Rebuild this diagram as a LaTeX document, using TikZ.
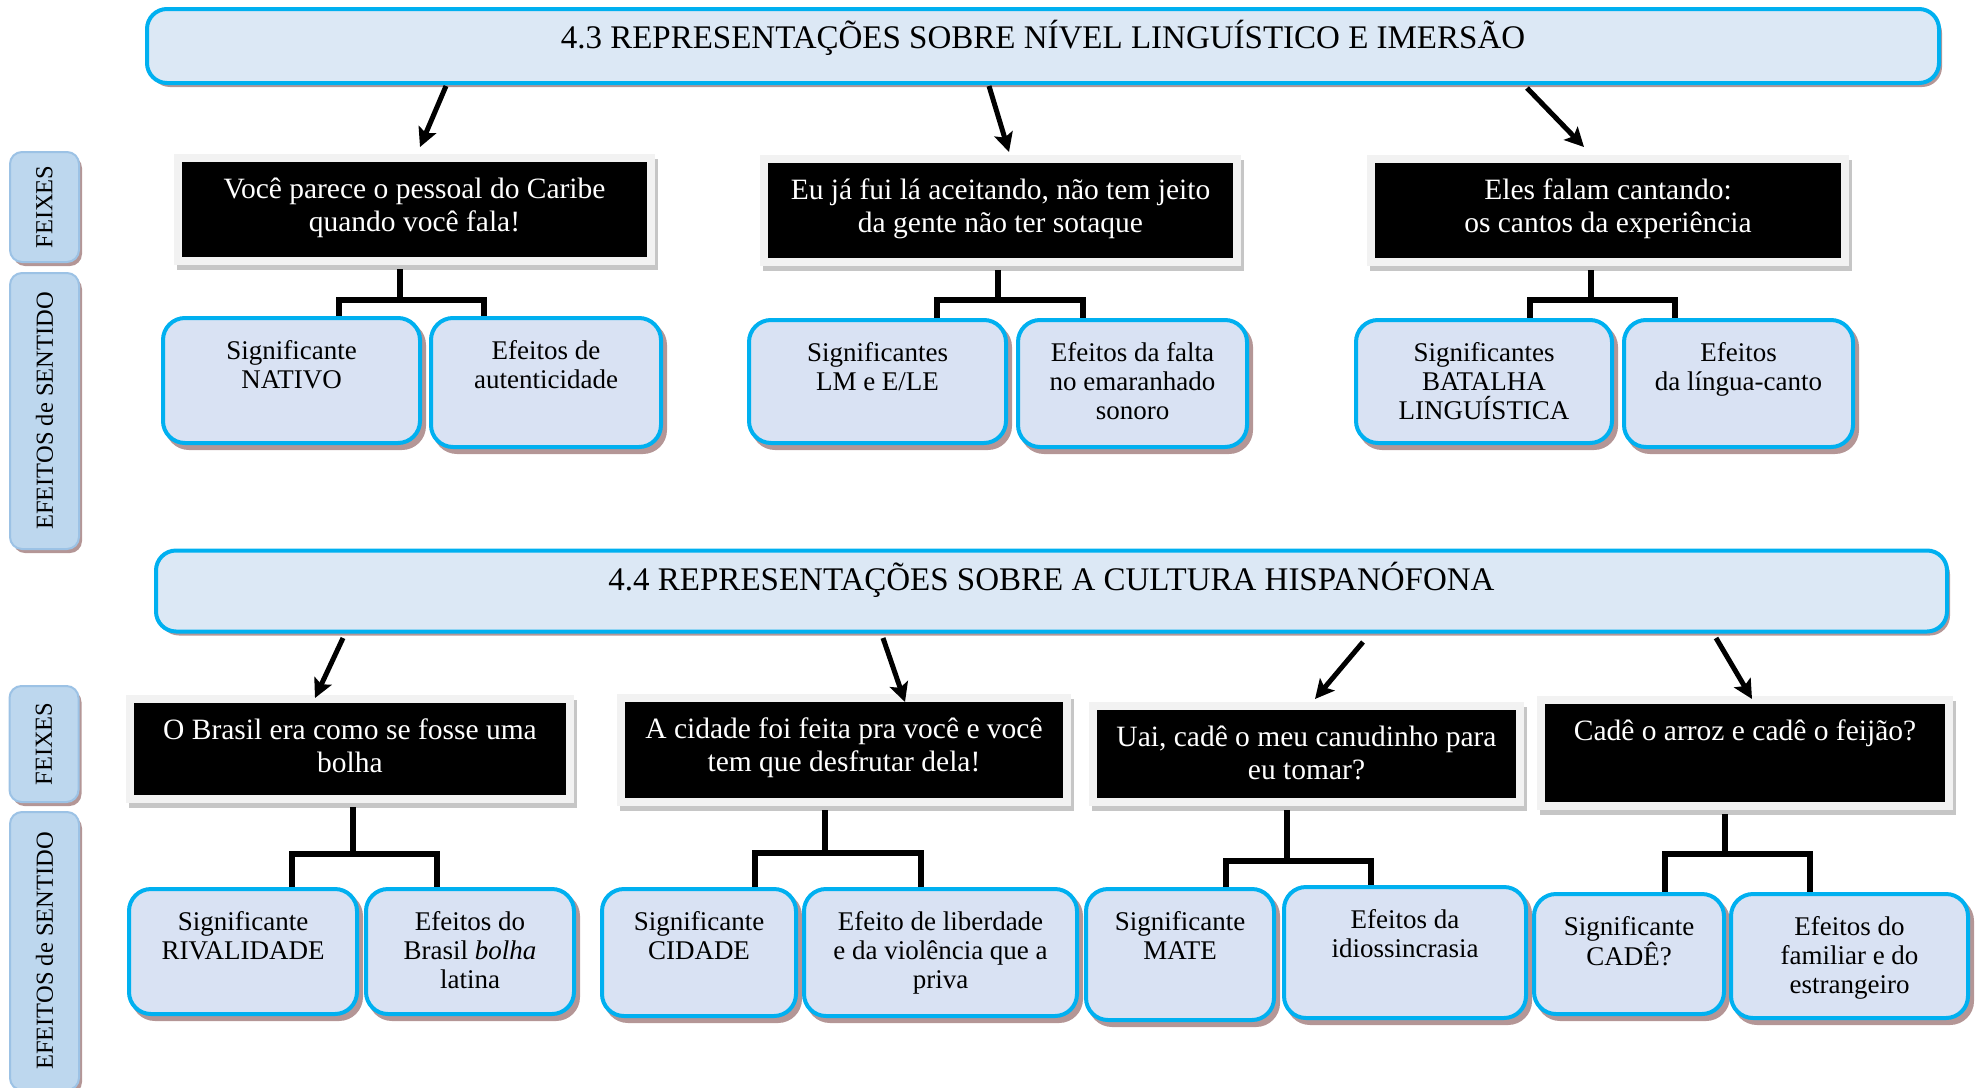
\documentclass[tikz,border=0pt]{standalone}
\usepackage{fontspec}
\setmainfont{Liberation Serif}
\usetikzlibrary{arrows.meta,shadows}

\definecolor{headfill}{HTML}{DCE8F5}
\definecolor{cyanline}{HTML}{00B0F0}
\definecolor{rosyshadow}{HTML}{B49696}
\definecolor{sigfill}{HTML}{D9E2F3}
\definecolor{sidefill}{HTML}{BDD7EE}
\definecolor{sideline}{HTML}{9CC2E5}
\definecolor{framegray}{HTML}{F2F2F2}
\definecolor{framedark}{HTML}{C6C6C6}

% width, height, gap above first line, text
\newcommand{\boxtext}[4]{%
  \begin{minipage}[c][#2][t]{#1}\centering\vspace*{#3}#4\end{minipage}}

\tikzset{
  header/.style={draw=cyanline, fill=headfill, line width=4pt, rounded corners=20pt,
    inner sep=0pt, font=\fontsize{33}{36}\selectfont,
    drop shadow={shadow xshift=3pt, shadow yshift=-4pt, fill=rosyshadow, opacity=1}},
  feixe/.style={fill=black, draw=framegray, line width=8pt, inner sep=0pt, text=white,
    font=\fontsize{29.5}{33}\selectfont,
    drop shadow={shadow xshift=3pt, shadow yshift=-5pt, fill=framedark, draw=framedark, opacity=1}},
  sig/.style={draw=cyanline, fill=sigfill, line width=4pt, rounded corners=22pt,
    inner sep=0pt, font=\fontsize{27}{29}\selectfont,
    drop shadow={shadow xshift=4pt, shadow yshift=-5pt, fill=rosyshadow, draw=rosyshadow, opacity=1}},
  side/.style={draw=sideline, fill=sidefill, line width=2pt, rounded corners=12pt,
    inner sep=0pt, rotate=90, minimum height=69pt, font=\fontsize{24.5}{26}\selectfont,
    drop shadow={shadow xshift=3pt, shadow yshift=-4pt, fill=rosyshadow, opacity=1}},
  arrow/.style={line width=5pt, -{Stealth[length=19pt,width=19pt,inset=4pt]}},
  elbow/.style={line width=6pt}
}

\begin{document}
\begin{tikzpicture}[x=1pt,y=-1pt]
  \useasboundingbox (0,0) rectangle (1975,1087);

  % side labels
  \node[side, minimum width=110pt] (fx1) at (44.5,207) {FEIXES};
  \node[side, minimum width=276pt] (ef1) at (44.5,411) {EFEITOS de SENTIDO};
  \node[side, minimum width=116pt] (fx2) at (44,744) {FEIXES};
  \node[side, minimum width=278pt] (ef2) at (44.5,951) {EFEITOS de SENTIDO};

  % 4.3
  \node[header, minimum width=1792pt, text height=39pt, text depth=35pt] (h1) at (1043,46)
    {4.3 REPRESENTAÇÕES SOBRE NÍVEL LINGUÍSTICO E IMERSÃO};

  \node[feixe] (f1) at (414.5,209.5) {\boxtext{473pt}{103pt}{20pt}{Você parece o pessoal do Caribe\\quando você fala!}};
  \node[feixe] (f2) at (1000.5,210.5) {\boxtext{473pt}{103pt}{20pt}{Eu já fui lá aceitando, não tem jeito\\da gente não ter sotaque}};
  \node[feixe] (f3) at (1608,210.5) {\boxtext{474pt}{103pt}{20pt}{Eles falam cantando:\\os cantos da experiência}};

  \node[sig] (s1) at (291.5,380.5) {\boxtext{257pt}{125pt}{22pt}{Significante\\NATIVO}};
  \node[sig] (e1) at (546,382.5) {\boxtext{230pt}{129pt}{22pt}{Efeitos de\\autenticidade}};
  \node[sig] (s2) at (877.5,381.5) {\boxtext{257pt}{123pt}{22pt}{Significantes\\LM e E/LE}};
  \node[sig] (e2) at (1132.5,383.5) {\boxtext{229pt}{127pt}{22pt}{Efeitos da falta\\no emaranhado\\sonoro}};
  \node[sig] (s3) at (1484,381.5) {\boxtext{256pt}{123pt}{22pt}{Significantes\\BATALHA\\LINGUÍSTICA}};
  \node[sig] (e3) at (1738.5,383.5) {\boxtext{229pt}{127pt}{22pt}{Efeitos\\da língua-canto}};

  \coordinate (a1) at (446,86);   \coordinate (b1) at (420,147);
  \coordinate (a2) at (989,86);   \coordinate (b2) at (1009,152);
  \coordinate (a3) at (1527,88);  \coordinate (b3) at (1584,147);
  \draw[arrow] (a1) -- (b1);
  \draw[arrow] (a2) -- (b2);
  \draw[arrow] (a3) -- (b3);

  \draw[elbow] ([xshift=-14.5pt,yshift=-4pt]f1.south) -- ++(0,31) -| ([xshift=47.5pt]s1.north);
  \draw[elbow] ([xshift=-14.5pt,yshift=-4pt]f1.south) -- ++(0,31) -| ([xshift=-62pt]e1.north);
  \draw[elbow] ([xshift=-2.5pt,yshift=-4pt]f2.south) -- ++(0,30) -| ([xshift=59.5pt]s2.north);
  \draw[elbow] ([xshift=-2.5pt,yshift=-4pt]f2.south) -- ++(0,30) -| ([xshift=-49.5pt]e2.north);
  \draw[elbow] ([xshift=-17pt,yshift=-4pt]f3.south) -- ++(0,30) -| ([xshift=46pt]s3.north);
  \draw[elbow] ([xshift=-17pt,yshift=-4pt]f3.south) -- ++(0,30) -| ([xshift=-63.5pt]e3.north);

  % 4.4
  \node[header, minimum width=1791pt, text height=40pt, text depth=41pt] (h2) at (1051.5,591)
    {4.4 REPRESENTAÇÕES SOBRE A CULTURA HISPANÓFONA};

  \node[feixe] (f4) at (350,749) {\boxtext{440pt}{100pt}{20pt}{O Brasil era como se fosse uma\\bolha}};
  \node[feixe] (f5) at (844,750) {\boxtext{446pt}{104pt}{20pt}{A cidade foi feita pra você e você\\tem que desfrutar dela!}};
  \node[feixe] (f6) at (1306.5,754) {\boxtext{427pt}{96pt}{20pt}{Uai, cadê o meu canudinho para\\eu tomar?}};
  \node[feixe] (f7) at (1745,753) {\boxtext{408pt}{106pt}{20pt}{Cadê o arroz e cadê o feijão?}};

  \node[sig] (c1) at (243,951.5) {\boxtext{228pt}{125pt}{22pt}{Significante\\RIVALIDADE}};
  \node[sig] (c2) at (470,951.5) {\boxtext{208pt}{125pt}{22pt}{Efeitos do\\Brasil \textit{bolha}\\latina}};
  \node[sig] (c3) at (699,952.5) {\boxtext{194pt}{127pt}{22pt}{Significante\\CIDADE}};
  \node[sig] (c4) at (940.5,952.5) {\boxtext{273pt}{127pt}{22pt}{Efeito de liberdade\\e da violência que a\\priva}};
  \node[sig] (c5) at (1180,954.5) {\boxtext{188pt}{131pt}{22pt}{Significante\\MATE}};
  \node[sig] (c6) at (1405,952.5) {\boxtext{242pt}{131pt}{22pt}{Efeitos da\\idiossincrasia}};
  \node[sig] (c7) at (1629,954) {\boxtext{190pt}{120pt}{22pt}{Significante\\CADÊ?}};
  \node[sig] (c8) at (1849.5,956) {\boxtext{237pt}{124pt}{22pt}{Efeitos do\\familiar e do\\estrangeiro}};

  \coordinate (a4) at (343,638);  \coordinate (b4) at (315,698);
  \coordinate (a5) at (883,638);  \coordinate (b5) at (905,702);
  \coordinate (a6) at (1363,642); \coordinate (b6) at (1315,699);
  \coordinate (a7) at (1716,638); \coordinate (b7) at (1752,699);
  \draw[arrow] (a4) -- (b4);
  \draw[arrow] (a5) -- (b5);
  \draw[arrow] (a6) -- (b6);
  \draw[arrow] (a7) -- (b7);

  \draw[elbow] ([xshift=3pt,yshift=-4pt]f4.south) -- ++(0,47) -| ([xshift=49pt]c1.north);
  \draw[elbow] ([xshift=3pt,yshift=-4pt]f4.south) -- ++(0,47) -| ([xshift=-33pt]c2.north);
  \draw[elbow] ([xshift=-19pt,yshift=-4pt]f5.south) -- ++(0,43) -| ([xshift=56pt]c3.north);
  \draw[elbow] ([xshift=-19pt,yshift=-4pt]f5.south) -- ++(0,43) -| ([xshift=-19.5pt]c4.north);
  \draw[elbow] ([xshift=-19.5pt,yshift=-4pt]f6.south) -- ++(0,51) -| ([xshift=46pt]c5.north);
  \draw[elbow] ([xshift=-19.5pt,yshift=-4pt]f6.south) -- ++(0,51) -| ([xshift=-34pt]c6.north);
  \draw[elbow] ([xshift=-20pt,yshift=-4pt]f7.south) -- ++(0,40) -| ([xshift=36pt]c7.north);
  \draw[elbow] ([xshift=-20pt,yshift=-4pt]f7.south) -- ++(0,40) -| ([xshift=-39.5pt]c8.north);
\end{tikzpicture}
\end{document}
